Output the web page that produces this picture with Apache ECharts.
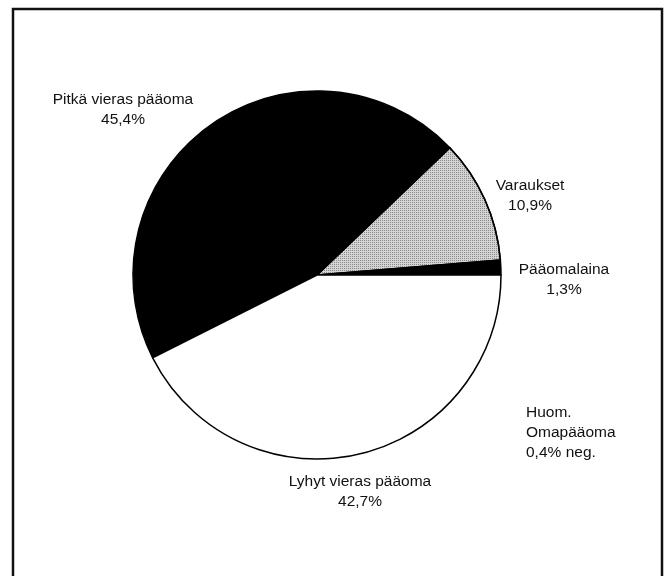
<!DOCTYPE html>
<html>
<head>
<meta charset="utf-8">
<script src="https://cdn.jsdelivr.net/npm/echarts@6/dist/echarts.min.js"></script>
<style>html,body{margin:0;padding:0;background:#fff;}#c{width:668px;height:576px;}</style>
</head>
<body>
<div id="c"></div>
<script>
const categories = ['Pääomalaina', 'Varaukset', 'Pitkä vieras pääoma', 'Lyhyt vieras pääoma'];
const values = [1.3, 10.9, 45.4, 42.7];
const noteLines = ['Huom.', 'Omapääoma', '0,4% neg.'];

const sliceColors = ['#000000', '#d4d4d4', '#000000', '#ffffff'];
const labelPos = [[564, 280], [530, 196], [123, 110], [360, 492]];

const chart = echarts.init(document.getElementById('c'));
chart.setOption({
  animation: false,
  backgroundColor: '#fff',
  graphic: [
    { type: 'rect', shape: { x: 13, y: 9, width: 649, height: 600 },
      style: { fill: 'none', stroke: '#111', lineWidth: 2.5 } },
    { type: 'text', left: 526, top: 403,
      style: { text: noteLines.join('\n'), font: '15.5px "Liberation Sans", Arial, sans-serif',
               lineHeight: 20, fill: '#111' } }
  ],
  series: [{
    type: 'pie',
    center: [317, 275],
    radius: 184,
    startAngle: 0,
    clockwise: false,
    data: categories.map((n, i) => ({
      name: n, value: values[i],
      itemStyle: { color: sliceColors[i],
        decal: i === 1 ? { symbol: 'rect', symbolSize: 1, color: 'rgba(0,0,0,0.35)', dashArrayX: [1, 1], dashArrayY: [1, 1], rotation: 0 } : null }
    })),
    itemStyle: { borderColor: '#000', borderWidth: 1.5 },
    label: {
      show: true,
      position: 'outside',
      formatter: p => p.name + '\n' + p.value.toFixed(1).replace('.', ',') + '%',
      fontFamily: '"Liberation Sans", Arial, sans-serif',
      fontSize: 15.5,
      lineHeight: 20,
      color: '#111',
      align: 'center'
    },
    labelLine: { show: false },
    labelLayout: p => ({ x: labelPos[p.dataIndex][0], y: labelPos[p.dataIndex][1], align: 'center', verticalAlign: 'middle' }),
    emphasis: { disabled: true }
  }]
});
</script>
</body>
</html>
